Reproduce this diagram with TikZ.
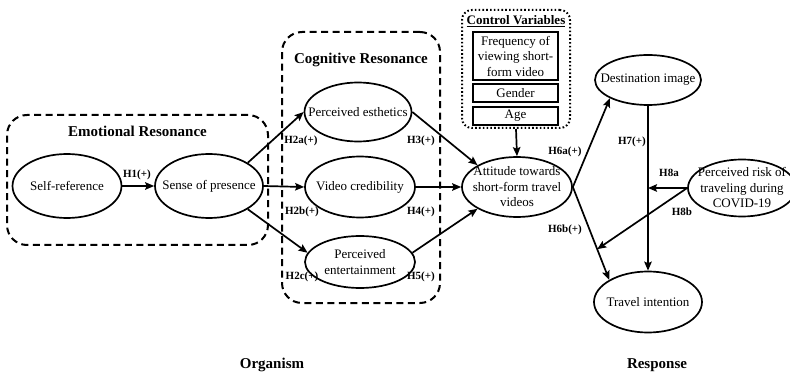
\documentclass[tikz,border=0pt]{standalone}
\usepackage{fontspec}
\setmainfont{Liberation Serif}
\usetikzlibrary{arrows.meta}
\usetikzlibrary{positioning}
\usetikzlibrary{shapes.geometric}
\usetikzlibrary{calc}

\begin{document}
\begin{tikzpicture}[x=1pt, y=-1pt,
                >={Stealth[length=9pt, width=7.5pt, inset=1.5pt]},
                line width=1.7pt,
                construct/.style 2 args = {shape=ellipse, draw, minimum width=#1, minimum height=#2, inner sep=0pt},
                ctext/.style = {align=center, font=\fontsize{13}{15.5}\selectfont},
                groupbox/.style = {draw, line width=2pt, dash pattern=on 7pt off 4.5pt, rounded corners=20pt, inner sep=0pt},
                controlbox/.style = {draw, line width=2pt, dash pattern=on 1.6pt off 2.2pt, rounded corners=10pt, inner sep=0pt},
                varbox/.style = {draw, line width=2pt, minimum width=85pt, inner sep=0pt, align=center, font=\fontsize{13}{15.5}\selectfont},
                grouptitle/.style = {font=\fontsize{15}{17}\selectfont\bfseries},
                hyp/.style = {font=\fontsize{11}{13}\selectfont\bfseries, inner sep=1pt}]
            \useasboundingbox (0,0) rectangle (790,374);

            % groups
            \node (g_emotional) [groupbox, minimum width=261pt, minimum height=130pt] at (137.5,180) {};
            \node (t_emotional) [grouptitle, below = 8pt of g_emotional.north] {Emotional Resonance};
            \node (g_cognitive) [groupbox, minimum width=158pt, minimum height=271pt] at (361,167.5) {};
            \node (t_cognitive) [grouptitle, below = 18pt of g_cognitive.north] {Cognitive Resonance};
            \node (g_control) [controlbox, minimum width=108pt, minimum height=118pt] at (516,69) {};
            \node (t_control) [font=\fontsize{13}{15}\selectfont\bfseries, below = 2pt of g_control.north] {\underline{Control Variables}};
            \node (v_freq) [varbox, minimum height=48pt] at (515.5,56) {Frequency of\\viewing short-\\form video};
            \node (v_gender) [varbox, minimum height=18pt] at (515.5,93) {Gender};
            \node (v_age) [varbox, minimum height=18pt] at (515.5,116) {Age};

            % constructs
            \node (q_selfref) [construct={109pt}{64pt}, label={[ctext]center:Self-reference}] at (67,186) {};
            \node (q_presence) [construct={108pt}{64pt}, label={[ctext]center:Sense of presence}] at (209,186) {};
            \node (q_esthetics) [construct={107pt}{59pt}, label={[ctext]center:Perceived esthetics}] at (358,112) {};
            \node (q_credibility) [construct={110pt}{61pt}, label={[ctext]center:Video credibility}] at (360,187) {};
            \node (q_entertain) [construct={110pt}{52pt}, label={[ctext]center:Perceived\\entertainment}] at (360,262) {};
            \node (q_attitude) [construct={110pt}{60pt}, label={[ctext]center:Attitude towards\\short-form travel\\videos}] at (517,187) {};
            \node (q_destination) [construct={106pt}{50pt}, label={[ctext]center:Destination image}] at (648,80) {};
            \node (q_travel) [construct={108pt}{61pt}, label={[ctext]center:Travel intention}] at (648,302) {};
            \node (q_risk) [construct={108pt}{57pt}, label={[ctext]center:Perceived risk of\\traveling during\\COVID-19}] at (742,188) {};

            \coordinate (c_h8a) at (q_destination.south |- q_risk.west);
            \coordinate (c_h8b) at ($(q_attitude.east)!0.67!(q_travel.north west)$);

            \path[->]
            (q_selfref)             edge (q_presence)
            (q_presence.north east) edge (q_esthetics.west)
            (q_presence.east)       edge (q_credibility.west)
            (q_presence.south east) edge (q_entertain.170)
            (q_esthetics.east)      edge (q_attitude.north west)
            (q_credibility.east)    edge (q_attitude.west)
            (q_entertain.10)        edge (q_attitude.south west)
            (g_control.south)       edge (q_attitude.north)
            (q_attitude.east)       edge (q_destination.south west)
            (q_attitude.east)       edge (q_travel.north west)
            (q_destination.south)   edge (q_travel.north)
            (q_risk.west)           edge (c_h8a)
            (q_risk.west)           edge (c_h8b);

            % hypotheses
            \node (l_h1) [hyp] at (137,175) {H1(+)};
            \node (l_h2a) [hyp] at (301,141) {H2a(+)};
            \node (l_h3) [hyp] at (421,141) {H3(+)};
            \node (l_h2b) [hyp] at (302,212) {H2b(+)};
            \node (l_h4) [hyp] at (421,212) {H4(+)};
            \node (l_h2c) [hyp] at (302,277) {H2c(+)};
            \node (l_h5) [hyp] at (421,277) {H5(+)};
            \node (l_h6a) [hyp] at (565,152) {H6a(+)};
            \node (l_h6b) [hyp] at (565,230) {H6b(+)};
            \node (l_h7) [hyp] at (632,142) {H7(+)};
            \node (l_h8a) [hyp] at (669,173) {H8a};
            \node (l_h8b) [hyp] at (682,212) {H8b};

            \node (t_organism) [grouptitle] at (272,365) {Organism};
            \node (t_response) [grouptitle] at (657,365) {Response};
        \end{tikzpicture}
\end{document}
